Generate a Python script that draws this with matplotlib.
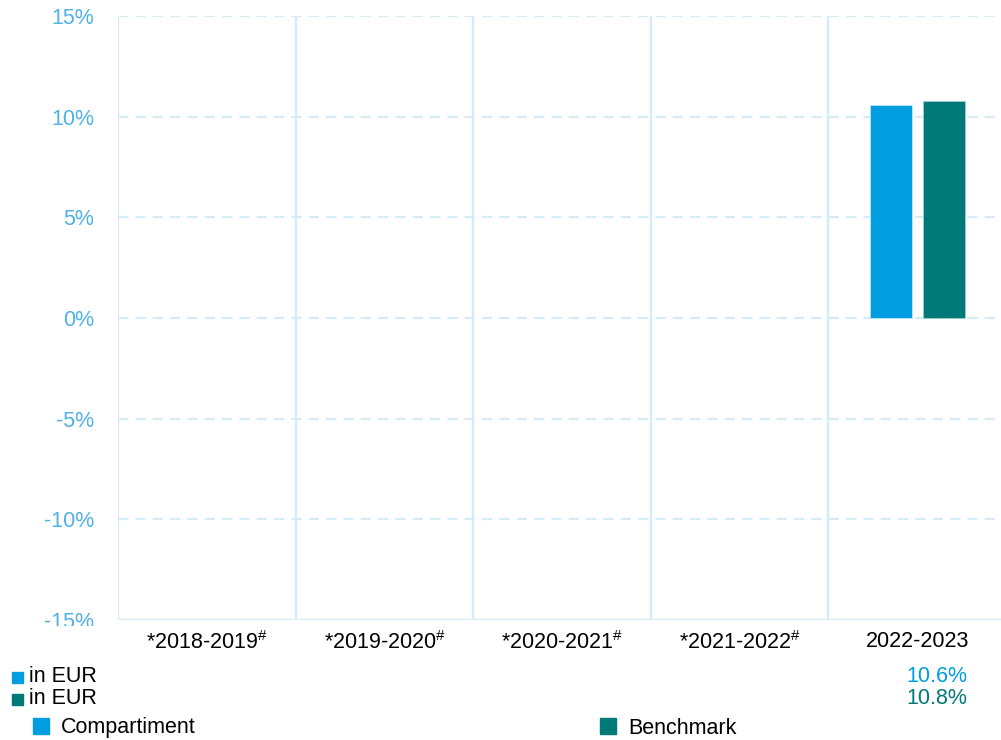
import matplotlib
matplotlib.use("Agg")
import matplotlib.pyplot as plt
from matplotlib.patches import Rectangle
from matplotlib.transforms import Bbox, TransformedBbox, blended_transform_factory
import numpy as np

plt.rcParams['font.family'] = ['Liberation Sans', 'DejaVu Sans']
plt.rcParams['mathtext.fontset'] = 'custom'
plt.rcParams['mathtext.rm'] = 'Liberation Sans'
plt.rcParams['mathtext.it'] = 'Liberation Sans'

# data
periods = ['*2018-2019$^{\\#}$', '*2019-2020$^{\\#}$', '*2020-2021$^{\\#}$',
           '*2021-2022$^{\\#}$', '2022-2023']
compartiment = [np.nan, np.nan, np.nan, np.nan, 10.6]
benchmark = [np.nan, np.nan, np.nan, np.nan, 10.8]
series_names = ['Compartiment', 'Benchmark']
currency = 'in EUR'

c_blue = '#009ee0'
c_teal = '#007a78'
grid_c = '#d6ebf8'
tick_c = '#4fb1e6'
fs = 15.5

W, H = 1001, 740
fig = plt.figure(figsize=(W / 100, H / 100), dpi=100)
ax = fig.add_axes([118 / W, 1 - 620 / H, 888 / W, 604 / H])

x = np.arange(len(periods))
ax.bar(x - 0.15, compartiment, width=0.237, color=c_blue, edgecolor='#bfe6f7', linewidth=0.6, zorder=3)
ax.bar(x + 0.15, benchmark, width=0.237, color=c_teal, edgecolor='#9fd0cf', linewidth=0.6, zorder=3)

ax.set_xlim(-0.5, len(periods) - 0.5)
ax.set_ylim(-15, 15)
yt = np.arange(-15, 16, 5)
ax.set_yticks(yt)
ax.set_yticklabels([f'{v}%' for v in yt], color=tick_c, fontsize=fs)
ax.set_xticks(x)
ax.set_xticklabels(periods, fontsize=fs, color='black')
ax.tick_params(axis='y', length=0, pad=17)
ax.tick_params(axis='x', length=0, pad=8)

# bottom label is cut off in the original
lab = ax.get_yticklabels()[0]
lab.set_clip_on(True)
lab.set_clip_box(TransformedBbox(Bbox([[0, 1 - 626 / H], [1, 1]]), fig.transFigure))

for v in yt:
    if v == -15:
        ax.axhline(v, color=grid_c, lw=1.6, zorder=1)
    else:
        ax.axhline(v, color=grid_c, lw=1.6, ls=(0, (4.6, 3.2)), zorder=1)
for b in np.arange(-0.5, len(periods), 1):
    ax.axvline(b, color=grid_c, lw=1.7, zorder=1)

for s in ax.spines.values():
    s.set_visible(False)

# value rows under the chart
vtrans = blended_transform_factory(ax.transData, fig.transFigure)
for row, (vals, col) in enumerate([(compartiment, c_blue), (benchmark, c_teal)]):
    yf = 1 - (677 + row * 22) / H
    fig.patches.append(Rectangle((12 / W, yf - 6 / H), 11 / W, 11 / H,
                                 transform=fig.transFigure, color=col))
    fig.text(29 / W, yf, currency, fontsize=fs, va='center', ha='left')
    for i, v in enumerate(vals):
        if not np.isnan(v):
            ax.text(i + 0.28, yf, f'{v:.1f}%', transform=vtrans,
                    fontsize=fs, color=col, ha='right', va='center')

# legend
for (lx, name, col) in [(33, series_names[0], c_blue), (600, series_names[1], c_teal)]:
    yf = 1 - 726 / H
    fig.patches.append(Rectangle((lx / W, yf - 8 / H), 16 / W, 16 / H,
                                 transform=fig.transFigure, color=col))
    fig.text((lx + 28) / W, yf - 2 / H, name, fontsize=fs, va='center', ha='left')

fig.savefig('out.png', dpi=100)
